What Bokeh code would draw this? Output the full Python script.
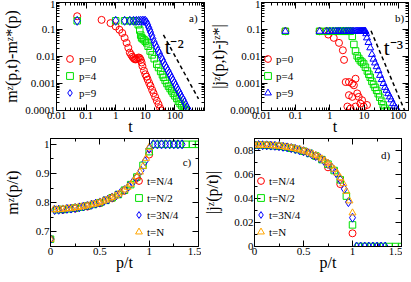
import numpy as np
from bokeh.plotting import figure
from bokeh.models import (LogAxis, LinearAxis, FixedTicker, CustomJSTickFormatter,
                          Legend, LegendItem, Label, Range1d)
from bokeh.layouts import column, row
from bokeh.embed import file_html
from bokeh.resources import INLINE

# ---------------- data: panel a  (m^z(p,t) - m^z*(p) vs t) ----------------
a_t_p0 = [0.05, 0.333, 0.667, 1.0, 1.333, 1.667, 2.0, 2.333, 2.667, 3.0, 3.333, 3.667,
          4.0, 4.333, 4.667, 5.0, 5.5, 6.0, 6.5, 7.0, 7.5, 8.0, 9.0, 10.0, 11.0, 12.0,
          13.5, 15.0, 17.0, 19.0, 21.5, 24.5, 28.0, 31.5, 35.0]
a_m_p0 = [0.31, 0.227, 0.172, 0.130, 0.098, 0.074, 0.049, 0.032, 0.021, 0.0139, 0.0115, 0.0098,
          0.0087, 0.0080, 0.0078, 0.0080, 0.0087, 0.0092, 0.0087, 0.0075, 0.0060, 0.0044,
          0.0030, 0.0022, 0.0018, 0.0014, 0.00104, 0.00081, 0.00058, 0.00044, 0.00032,
          0.00023, 0.00017, 0.000123, 0.0001]
a_t_p4 = [0.05, 1, 2, 3, 4, 5, 5.8, 6.5, 7.0, 7.5, 8.0, 9.0, 10.0, 11.2, 12.5, 14.6, 17, 20,
          24.4, 28, 33, 38, 41.3, 47, 54, 61, 69, 78, 88, 100, 116, 132, 150, 172, 195, 218, 240]
a_m_p4 = [0.21, 0.21, 0.21, 0.21, 0.21, 0.205, 0.15, 0.095, 0.062, 0.050, 0.046, 0.042, 0.037,
          0.032, 0.024, 0.016, 0.0115, 0.0083, 0.0052, 0.0039, 0.0028, 0.0021, 0.0017, 0.0013,
          0.001, 0.0008, 0.00065, 0.00053, 0.00043, 0.00035, 0.00028, 0.00022, 0.00018,
          0.00015, 0.000124, 0.00011, 0.0001]
a_t_p9 = [0.05, 1, 2, 3, 4, 5, 6, 7, 8, 9, 10, 11, 12, 13, 14, 15, 16.5, 18, 20, 22, 24.5,
          27, 30, 34, 38, 42, 47, 52, 58, 64, 70, 78, 86, 95, 105, 116, 128, 141, 156, 172,
          190, 210, 232, 256, 286]
a_m_p9 = [0.21, 0.21, 0.21, 0.21, 0.21, 0.21, 0.21, 0.21, 0.21, 0.21, 0.21, 0.185, 0.15,
          0.12, 0.097, 0.08, 0.06, 0.046, 0.034, 0.026, 0.021, 0.016, 0.013, 0.0095, 0.0075,
          0.0058, 0.0046, 0.0037, 0.003, 0.0024, 0.002, 0.0016, 0.0013, 0.00105, 0.00085,
          0.00069, 0.00056, 0.00046, 0.00037, 0.0003, 0.00025, 0.0002, 0.00016, 0.00013, 0.000106]
a_ref_t = [41, 630]          # t^-2 guide
a_ref_m = [0.063, 0.000267]

# ---------------- data: panel b  (|j^z(p,t) - j^z*| vs t) ----------------
b_t_p0 = [0.05, 0.5, 0.8, 0.9, 1.3, 1.85, 2.4, 2.6, 2.91, 3.62, 4.53, 5.64, 5.04, 3.62,
          4.53, 6.3, 7.0, 8.77, 3.26, 4.05, 5.64, 7.83, 9.75, 12.2]
b_j_p0 = [0.086, 0.086, 0.086, 0.065, 0.049, 0.032, 0.017, 0.0075, 0.00113, 0.00113,
          0.00099, 0.0015, 0.00086, 0.00037, 0.00032, 0.00043, 0.00032, 0.00024, 0.00014,
          0.00012, 0.00014, 0.00018, 0.00014, 0.00016]
b_t_p4 = [0.05, 0.5, 0.8, 1.0, 1.25, 1.5, 1.75, 2.0, 2.25, 2.5, 2.75, 3.0, 3.25, 3.5, 3.75,
          4.0, 4.53, 5.04, 5.64, 6.3, 7.0, 7.83, 8.7, 9.75, 11, 12.5, 13.8, 15.2, 17, 19, 21,
          23.4, 26, 29, 32.9, 36.5, 41, 45.6]
b_j_p4 = [0.086, 0.086, 0.086, 0.086, 0.086, 0.086, 0.086, 0.086, 0.086, 0.086, 0.086,
          0.086, 0.086, 0.086, 0.086, 0.086, 0.056, 0.028, 0.016, 0.0106, 0.0085, 0.0070,
          0.0062, 0.0053, 0.0040, 0.0029, 0.0022, 0.0017, 0.0012, 0.00092, 0.00072, 0.00056,
          0.00042, 0.00031, 0.00022, 0.00016, 0.00012, 0.0001]
b_t_p9 = [0.05, 0.5, 0.8, 1.0, 1.25, 1.5, 1.75, 2.0, 2.5, 3.0, 3.5, 4.0, 4.5, 5.0, 5.5, 6.0,
          6.5, 7.0, 7.5, 8.0, 8.5, 9.0, 9.5, 10.0, 10.5, 11.0, 11.6, 12.2, 13.5, 15.2, 17,
          18.9, 21, 23.5, 26.3, 29.4, 33, 37, 41, 45.6, 51, 57, 63, 70.6, 78, 87, 98]
b_j_p9 = [0.086, 0.086, 0.086, 0.086, 0.086, 0.086, 0.086, 0.086, 0.086, 0.086, 0.086,
          0.086, 0.086, 0.086, 0.086, 0.086, 0.086, 0.086, 0.086, 0.086, 0.086, 0.086,
          0.086, 0.086, 0.086, 0.086, 0.07, 0.049, 0.033, 0.021, 0.012, 0.008, 0.0058,
          0.0042, 0.003, 0.002, 0.0014, 0.001, 0.00072, 0.00056, 0.00042, 0.00032, 0.00025,
          0.00018, 0.000145, 0.00012, 0.0001]
b_ref_t = [16, 155]          # t^-3 guide
b_ref_j = [0.0898, 0.0000988]

# ---------------- data: panels c, d (vs p/t), N = 32 ----------------
N = 32
c_p_N4 = list(range(0, 9));   t_N4 = N / 4
c_p_N2 = list(range(0, 25));  t_N2 = N / 2
c_p_3N4 = list(range(0, 33)); t_3N4 = 3 * N / 4
c_p_N = list(range(0, 33));   t_N = N

c_m_N4 = [0.675, 0.776, 0.780, 0.787, 0.798, 0.815, 0.841, 0.885, 0.965]
c_m_N2 = [0.675, 0.776, 0.777, 0.779, 0.782, 0.785, 0.789, 0.794, 0.800, 0.808, 0.817, 0.828,
          0.843, 0.862, 0.888, 0.928, 0.975, 1.0, 1.0, 1.0, 1.0, 1.0, 1.0, 1.0, 1.0]
c_m_3N4 = [0.675, 0.775, 0.776, 0.777, 0.779, 0.780, 0.782, 0.784, 0.787, 0.790, 0.793, 0.797,
           0.801, 0.806, 0.811, 0.818, 0.825, 0.833, 0.843, 0.856, 0.870, 0.887, 0.910, 0.942,
           0.985, 1.0, 1.0, 1.0, 1.0, 1.0, 1.0, 1.0, 1.0]
c_m_N = [0.675, 0.776, 0.776, 0.777, 0.778, 0.779, 0.780, 0.781, 0.783, 0.784, 0.786, 0.788,
         0.790, 0.793, 0.795, 0.798, 0.801, 0.805, 0.809, 0.813, 0.818, 0.823, 0.829, 0.836,
         0.844, 0.853, 0.863, 0.875, 0.889, 0.905, 0.925, 0.952, 0.99]

d_j_N4 = [0.0845, 0.0843, 0.0835, 0.0818, 0.0792, 0.0752, 0.066, 0.052, 0.011]
d_j_N2 = [0.0845, 0.0845, 0.0843, 0.0839, 0.0835, 0.0828, 0.0819, 0.0808, 0.0794, 0.0776,
          0.0754, 0.0724, 0.0686, 0.0633, 0.0556, 0.0420, 0.018, 0.0, 0.0, 0.0, 0.0, 0.0,
          0.0, 0.0, 0.0]
d_j_3N4 = [0.0845, 0.0845, 0.0844, 0.0843, 0.0841, 0.0839, 0.0836, 0.0831, 0.0826, 0.0820,
           0.0812, 0.0803, 0.0794, 0.0782, 0.0769, 0.0754, 0.0736, 0.0714, 0.0688, 0.0655,
           0.0612, 0.0557, 0.0480, 0.0370, 0.024, 0.0, 0.0, 0.0, 0.0, 0.0, 0.0, 0.0, 0.0]
d_j_N = [0.0845, 0.0845, 0.0845, 0.0844, 0.0843, 0.0842, 0.0840, 0.0838, 0.0836, 0.0833,
         0.0830, 0.0826, 0.0822, 0.0817, 0.0811, 0.0805, 0.0797, 0.0789, 0.0780, 0.0770,
         0.0759, 0.0746, 0.0731, 0.0714, 0.0694, 0.0671, 0.0644, 0.0612, 0.0573, 0.0524,
         0.0460, 0.0380, 0.028]

# ---------------- styling ----------------
FONT = "Liberation Serif"
RED, GREEN, BLUE, ORANGE = "#ff0000", "#00e000", "#0000ff", "#ffa500"
FMT = CustomJSTickFormatter(code="return String(Math.round(tick*1e6)/1e6);")
BLANK = CustomJSTickFormatter(code="return '';")

LOG_Y_TICKS = [0.0001, 0.001, 0.01, 0.1, 1]
LOG_X_TICKS = [0.01, 0.1, 1, 10, 100]


def log_minor(lo_exp, hi_exp, top):
    out = []
    for e in range(lo_exp, hi_exp):
        for k in range(2, 10):
            v = k * 10.0 ** e
            if v <= top:
                out.append(v)
    return out


def style_axis(ax, ticks, minor, label=None, standoff=0, blank=False):
    ax.ticker = FixedTicker(ticks=ticks, minor_ticks=minor)
    ax.formatter = BLANK if blank else FMT
    ax.major_tick_in = 6
    ax.major_tick_out = 0
    ax.minor_tick_in = 3
    ax.minor_tick_out = 0
    ax.major_tick_line_color = "black"
    ax.minor_tick_line_color = "black"
    ax.axis_line_color = "black"
    ax.major_label_text_font = FONT
    ax.major_label_text_color = "black"
    ax.major_label_text_font_size = "0px" if blank else "11px"
    ax.major_label_standoff = 0 if blank else 1
    if label:
        ax.axis_label = label
        ax.axis_label_text_font = FONT
        ax.axis_label_text_font_size = "16px"
        ax.axis_label_text_font_style = "normal"
        ax.axis_label_text_color = "black"
        ax.axis_label_standoff = standoff


def make_fig(xr, yr, xlog, ylog, fw, fh, bl, br, bt, bb):
    p = figure(x_range=Range1d(*xr), y_range=Range1d(*yr),
               x_axis_type="log" if xlog else "linear",
               y_axis_type="log" if ylog else "linear",
               frame_width=fw, frame_height=fh,
               min_border_left=bl, min_border_right=br,
               min_border_top=bt, min_border_bottom=bb,
               toolbar_location=None, output_backend="svg")
    p.xgrid.visible = False
    p.ygrid.visible = False
    p.outline_line_color = "black"
    p.outline_line_width = 1
    p.outline_line_alpha = 1
    p.background_fill_color = "white"
    p.border_fill_color = "white"
    return p


def mirrors(p, xlog, ylog, xt, xm, yt, ym):
    top = LogAxis() if xlog else LinearAxis()
    style_axis(top, xt, xm, blank=True)
    p.add_layout(top, "above")
    right = LogAxis() if ylog else LinearAxis()
    style_axis(right, yt, ym, blank=True)
    p.add_layout(right, "right")


def add_legend(p, items, loc, spacing, standoff, font="11px"):
    lg = Legend(items=[LegendItem(label=l, renderers=[r]) for l, r in items], location=loc)
    lg.padding = 0
    lg.margin = 0
    lg.spacing = spacing
    lg.glyph_width = 17
    lg.glyph_height = 17
    lg.label_height = 10
    lg.label_standoff = standoff
    lg.border_line_color = None
    lg.background_fill_alpha = 0
    lg.label_text_font = FONT
    lg.label_text_font_size = font
    lg.label_text_color = "black"
    p.add_layout(lg)


def tag(p, x, y, text, size="11px"):
    p.add_layout(Label(x=x, y=y, text=text, text_font=FONT, text_font_size=size,
                       text_color="black", text_align="left", text_baseline="alphabetic"))


def circles(p, x, y):
    return p.scatter(x, y, marker="circle", size=7, line_color=RED, fill_color=None, line_width=1)


def squares(p, x, y):
    return p.scatter(x, y, marker="square", size=6.5, line_color=GREEN, fill_color=None, line_width=1)


def diamonds(p, x, y):
    return p.scatter(x, y, marker="diamond", size=9, line_color=BLUE, fill_color=None, line_width=1)


def triangles(p, x, y, color=ORANGE):
    return p.scatter(x, y, marker="triangle", size=7, line_color=color, fill_color=None, line_width=1)


# geometry
BL = 50
FW1, BR1 = 148, 3
FW2, BR2 = 147, 1
FH = 108

# ---------------- panel a ----------------
pa = make_fig((0.01, 1000), (0.0001, 1), True, True, FW1, FH, BL, BR1, 2, 26)
style_axis(pa.xaxis[0], LOG_X_TICKS, log_minor(-2, 3, 1000), "t", -4)
style_axis(pa.yaxis[0], LOG_Y_TICKS, log_minor(-4, 0, 1), "mᶻ(p,t)-mᶻ*(p)", 2)
mirrors(pa, True, True, LOG_X_TICKS, log_minor(-2, 3, 1000), LOG_Y_TICKS, log_minor(-4, 0, 1))
ra0 = circles(pa, a_t_p0, a_m_p0)
ra4 = squares(pa, a_t_p4, a_m_p4)
ra9 = diamonds(pa, a_t_p9, a_m_p9)
pa.line(a_ref_t, a_ref_m, line_color="black", line_dash="4 3", line_width=1.5)
add_legend(pa, [("p=0", ra0), ("p=4", ra4), ("p=9", ra9)], (5, 9), -3, 1)
tag(pa, 45, 0.022, "t⁻²", "21px")
tag(pa, 300, 0.26, "a)", "11px")

# ---------------- panel b ----------------
pb = make_fig((0.01, 200), (0.0001, 1), True, True, FW2, FH, BL, BR2, 2, 26)
style_axis(pb.xaxis[0], LOG_X_TICKS, log_minor(-2, 3, 200), "t", -4)
style_axis(pb.yaxis[0], LOG_Y_TICKS, log_minor(-4, 0, 1), "|jᶻ(p,t)-jᶻ*|", 0)
mirrors(pb, True, True, LOG_X_TICKS, log_minor(-2, 3, 200), LOG_Y_TICKS, log_minor(-4, 0, 1))
rb0 = circles(pb, b_t_p0, b_j_p0)
rb4 = squares(pb, b_t_p4, b_j_p4)
rb9 = triangles(pb, b_t_p9, b_j_p9, BLUE)
pb.line(b_ref_t, b_ref_j, line_color="black", line_dash="4 3", line_width=1.5)
add_legend(pb, [("p=0", rb0), ("p=4", rb4), ("p=9", rb9)], (-2, 9), -3, 0)
tag(pb, 38, 0.02, "t⁻³", "21px")
tag(pb, 80, 0.26, "b)", "11px")

# ---------------- panel c ----------------
XT = [0, 0.5, 1, 1.5]
XM = [0.25, 0.75, 1.25]
pc = make_fig((0, 1.5), (0.65, 1.02), False, False, FW1, FH, BL, BR1, 1, 27)
CYT = [0.7, 0.8, 0.9, 1.0]
CYM = [0.75, 0.85, 0.95]
style_axis(pc.xaxis[0], XT, XM, "p/t", -4)
style_axis(pc.yaxis[0], CYT, CYM, "mᶻ(p/t)", 12)
mirrors(pc, False, False, XT, XM, CYT, CYM)
rc1 = circles(pc, np.array(c_p_N4) / t_N4, c_m_N4)
rc2 = squares(pc, np.array(c_p_N2) / t_N2, c_m_N2)
rc3 = diamonds(pc, np.array(c_p_3N4) / t_3N4, c_m_3N4)
rc4 = triangles(pc, np.array(c_p_N) / t_N, c_m_N)
add_legend(pc, [("t=N/4", rc1), ("t=N/2", rc2), ("t=3N/4", rc3), ("t=N", rc4)], (80, 6), -6, -1)
tag(pc, 1.34, 0.94, "c)", "11px")

# ---------------- panel d ----------------
pd_ = make_fig((0, 1.5), (0, 0.09), False, False, FW2, FH, BL, BR2, 1, 27)
DYT = [0, 0.02, 0.04, 0.06, 0.08]
DYM = [0.01, 0.03, 0.05, 0.07]
style_axis(pd_.xaxis[0], XT, XM, "p/t", -4)
style_axis(pd_.yaxis[0], DYT, DYM, "|jᶻ(p/t)|", 10)
mirrors(pd_, False, False, XT, XM, DYT, DYM)
rd1 = circles(pd_, np.array(c_p_N4) / t_N4, d_j_N4)
rd2 = squares(pd_, np.array(c_p_N2) / t_N2, d_j_N2)
rd3 = diamonds(pd_, np.array(c_p_3N4) / t_3N4, d_j_3N4)
rd4 = triangles(pd_, np.array(c_p_N) / t_N, d_j_N)
add_legend(pd_, [("t=N/4", rd1), ("t=N/2", rd2), ("t=3N/4", rd3), ("t=N", rd4)], (-2, 6), -6, -1)
tag(pd_, 1.29, 0.076, "d)", "11px")

layout = column(row(pa, pb), row(pc, pd_))
open("out.html", "w").write(file_html(layout, INLINE, "chart"))
